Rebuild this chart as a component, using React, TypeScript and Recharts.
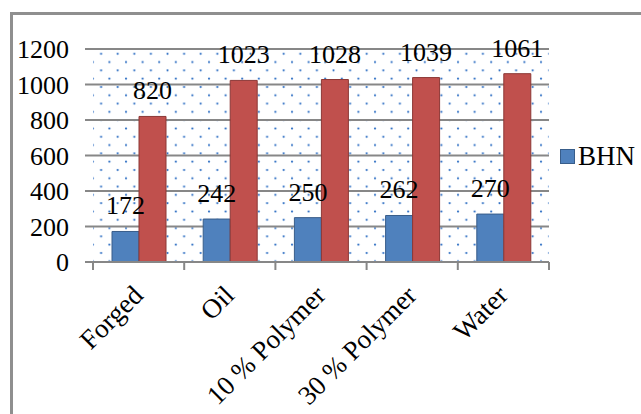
import { BarChart, Bar, XAxis, YAxis, CartesianGrid, Legend, LabelList } from 'recharts'

// quench media vs. hardness and strength
const categories = ['Forged', 'Oil', '10 % Polymer', '30 % Polymer', 'Water']
const bhnValues = [172, 242, 250, 262, 270]
const strengthValues = [820, 1023, 1028, 1039, 1061]
const yTicks = [0, 200, 400, 600, 800, 1000, 1200]

const FONT = '"Liberation Serif", "Times New Roman", serif'
const AXIS_GRAY = '#878787'

const data = categories.map((name, i) => ({
  name,
  bhn: bhnValues[i],
  strength: strengthValues[i],
}))

function CategoryTick(props: any) {
  const { x, y, payload, index } = props
  const half = payload?.offset ?? 0
  const lx = x + 6
  const ly = y + 35
  return (
    <g>
      <line x1={x - half} x2={x - half} y1={y} y2={y + 8} stroke={AXIS_GRAY} strokeWidth={2} />
      {index === categories.length - 1 && (
        <line x1={x + half} x2={x + half} y1={y} y2={y + 8} stroke={AXIS_GRAY} strokeWidth={2} />
      )}
      <text
        x={lx}
        y={ly}
        transform={`rotate(-45, ${lx}, ${ly})`}
        textAnchor="end"
        fontSize={27}
        fill="#000"
      >
        {payload.value}
      </text>
    </g>
  )
}

function LegendBox({ payload }: any) {
  const items = (payload || []).filter(
    (entry: any) => entry.type !== 'none' && entry.payload?.legendType !== 'none'
  )
  return (
    <div>
      {items.map((entry: any) => (
        <div key={entry.value} style={{ display: 'flex', alignItems: 'center', fontFamily: FONT }}>
          <span
            style={{
              display: 'inline-block',
              width: 13,
              height: 13,
              background: entry.color,
              border: '1px solid #385D8A',
              marginRight: 3,
            }}
          />
          <span style={{ fontSize: 27, lineHeight: '27px', color: '#000' }}>{entry.value}</span>
        </div>
      ))}
    </div>
  )
}

export default function App() {
  return (
    <div
      style={{
        position: 'absolute',
        left: 0,
        top: 0,
        width: 641,
        height: 414,
        overflow: 'hidden',
        background: '#fff',
      }}
    >
      <style>{`.recharts-wrapper text, .recharts-wrapper tspan { font-family: ${FONT}; }`}</style>
      <div
        style={{
          position: 'absolute',
          left: 10,
          top: 12,
          width: 631,
          height: 402,
          borderTop: '3px solid #8f8f8f',
          borderLeft: '3px solid #8f8f8f',
        }}
      />
      <div style={{ position: 'absolute', left: 0, top: 0 }}>
        <BarChart
          width={641}
          height={414}
          data={data}
          margin={{ top: 49, right: 92, bottom: 0, left: 0 }}
          barCategoryGap={19}
          barGap={0}
        >
          <defs>
            <pattern id="dots" patternUnits="userSpaceOnUse" width={16.6} height={16.6}>
              <rect x={0} y={0} width={16.6} height={16.6} fill="#fff" />
              <circle cx={1.5} cy={4} r={1.1} fill="#2f6fc4" />
              <circle cx={9.8} cy={12.3} r={1.1} fill="#2f6fc4" />
            </pattern>
          </defs>
          <CartesianGrid
            vertical={false}
            stroke={AXIS_GRAY}
            strokeWidth={2}
            fill="url(#dots)"
            fillOpacity={1}
          />
          <XAxis
            dataKey="name"
            axisLine={{ stroke: AXIS_GRAY, strokeWidth: 2 }}
            tickLine={false}
            tickSize={0}
            tickMargin={0}
            height={152}
            interval={0}
            tick={<CategoryTick />}
          />
          <YAxis
            domain={[0, 1200]}
            ticks={yTicks}
            width={93}
            axisLine={false}
            tickLine={{ stroke: AXIS_GRAY, strokeWidth: 2 }}
            tickSize={8}
            tickMargin={16}
            tick={{ fontSize: 26, fill: '#000' }}
            interval={0}
          />
          <Legend
            layout="horizontal"
            align="center"
            verticalAlign="middle"
            wrapperStyle={{ left: 560, top: 143, width: 'auto', height: 'auto' }}
            content={<LegendBox />}
          />
          <Bar dataKey="bhn" name="BHN" fill="#4F81BD" stroke="#385D8A" strokeWidth={1} isAnimationActive={false}>
            <LabelList dataKey="bhn" position="top" offset={17} fontSize={26} fill="#000" />
          </Bar>
          <Bar
            dataKey="strength"
            fill="#C0504D"
            stroke="#8C3836"
            strokeWidth={1}
            legendType="none"
            isAnimationActive={false}
          >
            <LabelList dataKey="strength" position="top" offset={17} fontSize={26} fill="#000" />
          </Bar>
        </BarChart>
      </div>
    </div>
  )
}
